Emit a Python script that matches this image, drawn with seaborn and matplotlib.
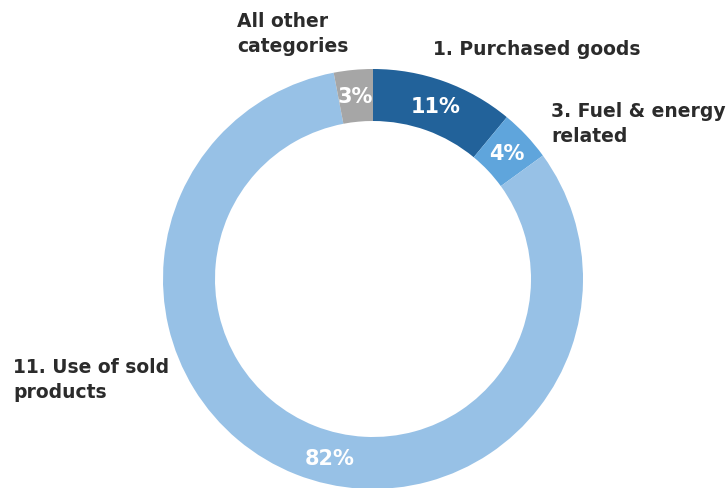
import matplotlib
matplotlib.use("Agg")
import matplotlib.pyplot as plt
import numpy as np
import seaborn as sns

# Scope 3 emission shares, clockwise from 12 o'clock
categories = ["1. Purchased goods", "3. Fuel & energy\nrelated",
              "11. Use of sold\nproducts", "All other\ncategories"]
shares = [11, 4, 82, 3]
colors = ["#22629A", "#5FA5DC", "#97C1E6", "#A6A6A6"]

sns.set_theme(style="white")
plt.rcParams["font.family"] = ["DejaVu Sans"]

W, H = 728, 489
fig = plt.figure(figsize=(W / 100, H / 100), dpi=100)
ax = fig.add_axes([0, 0, 1, 1])

cx, cy = 373, H - 280
R, ring = 210, 52
wedges, _ = ax.pie(shares, colors=sns.color_palette(colors), startangle=90,
                   counterclock=False, center=(cx, cy), radius=R,
                   wedgeprops=dict(width=ring, linewidth=0), frame=True)
ax.set_xlim(0, W)
ax.set_ylim(0, H)
ax.set_aspect("equal")
ax.axis("off")

# percentage labels inside the ring
rmid = R - ring / 2
shift = {2: 8}
for i, (w, v) in enumerate(zip(wedges, shares)):
    ang = np.deg2rad((w.theta1 + w.theta2) / 2 + shift.get(i, 0))
    ax.text(cx + rmid * np.cos(ang), cy + rmid * np.sin(ang), f"{v}%",
            ha="center", va="center", color="white", fontsize=15,
            fontweight="bold")

# category labels around the ring
label_pos = [(433, H - 50), (551, H - 124.5), (13, H - 380.5), (237, H - 34.5)]
for text, (x, y) in zip(categories, label_pos):
    ax.text(x, y, text, ha="left", va="center", color="#2B2B2B",
            fontsize=13.5, fontweight="bold", linespacing=1.4)

fig.savefig("out.png", dpi=100)
